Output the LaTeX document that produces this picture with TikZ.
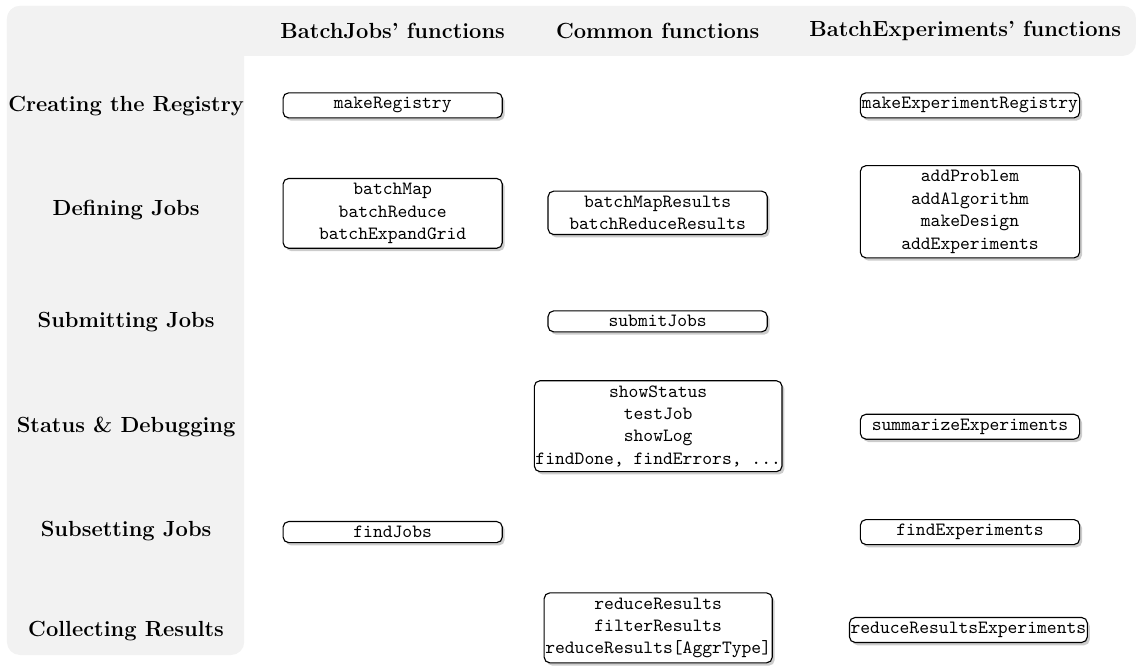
\documentclass[tikz,border=0pt]{standalone}
\usetikzlibrary{shadows}
\begin{document}
\begin{tikzpicture}[
  fnbox/.style={draw, semithick, fill=white, rounded corners=3pt, align=center,
    font=\ttfamily, minimum width=4.12cm, inner xsep=0.6pt, inner ysep=2.5pt,
    drop shadow={shadow xshift=1.3pt, shadow yshift=-1.5pt, opacity=.4}},
  rowlabel/.style={font=\fontsize{11.7}{14}\selectfont\bfseries},
  colhead/.style={font=\fontsize{11.7}{14}\selectfont\bfseries}]
\useasboundingbox (0,0) rectangle (21.35,-12.52);
\fill[black!5, rounded corners=7pt] (0.13,-0.11) rectangle (21.35,-1.05);
\fill[black!5, rounded corners=7pt] (0.13,-0.11) rectangle (4.59,-12.31);
\node[colhead] (hdJobs) at (7.38,-0.58) {BatchJobs' functions};
\node[colhead] (hdCommon) at (12.36,-0.58) {Common functions};
\node[colhead] (hdExp) at (18.14,-0.58) {BatchExperiments' functions};
\node[rowlabel] (rowCreate) at (2.37,-1.99) {Creating the Registry};
\node[rowlabel] (rowDefine) at (2.37,-3.95) {Defining Jobs};
\node[rowlabel] (rowSubmit) at (2.37,-6.05) {Submitting Jobs};
\node[rowlabel] (rowStatus) at (2.37,-8.03) {Status \& Debugging};
\node[rowlabel] (rowSubset) at (2.37,-9.98) {Subsetting Jobs};
\node[rowlabel] (rowCollect) at (2.37,-11.86) {Collecting Results};
\node[fnbox] (makeRegistry) at (7.38,-1.98) {makeRegistry};
\node[fnbox] (makeExperimentRegistry) at (18.23,-1.98) {makeExperimentRegistry};
\node[fnbox] (batchMap) at (7.38,-4.01) {batchMap\\batchReduce\\batchExpandGrid};
\node[fnbox] (batchMapResults) at (12.36,-4) {batchMapResults\\batchReduceResults};
\node[fnbox] (addProblem) at (18.23,-3.98) {addProblem\\addAlgorithm\\makeDesign\\addExperiments};
\node[fnbox] (submitJobs) at (12.36,-6.04) {submitJobs};
\node[fnbox] (showStatus) at (12.37,-8.01) {showStatus\\testJob\\showLog\\findDone, findErrors, ...};
\node[fnbox] (summarizeExperiments) at (18.23,-8.02) {summarizeExperiments};
\node[fnbox] (findJobs) at (7.38,-10) {findJobs};
\node[fnbox] (findExperiments) at (18.23,-10) {findExperiments};
\node[fnbox] (reduceResults) at (12.37,-11.8) {reduceResults\\filterResults\\reduceResults[AggrType]};
\node[fnbox] (reduceResultsExperiments) at (18.2,-11.84) {reduceResultsExperiments};
\end{tikzpicture}
\end{document}
